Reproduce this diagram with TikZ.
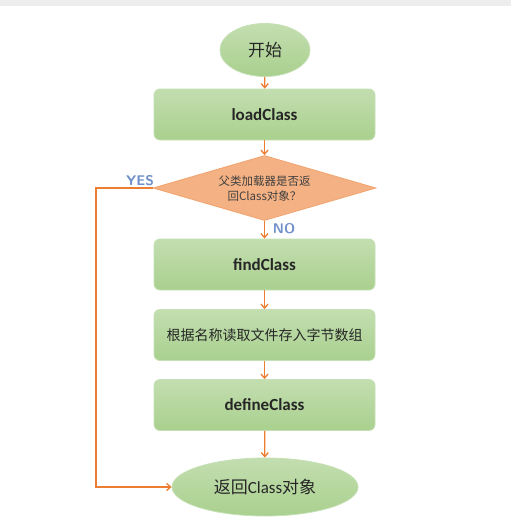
\documentclass[tikz,border=0pt]{standalone}
\usepackage{fontspec}
\setmainfont{Carlito}
\newfontfamily\cjk{Noto Sans CJK SC}
\usetikzlibrary{shapes.geometric,arrows.meta}
\definecolor{gfill}{HTML}{A9D08E}
\definecolor{gborder}{HTML}{C5E0B4}
\definecolor{ofill}{HTML}{F4B183}
\definecolor{oline}{HTML}{ED7D31}
\definecolor{lbl}{HTML}{6F8FC9}
\tikzset{
  x=1pt, y=-1pt,
  gbox/.style={draw=gborder, line width=0.8pt, top color=gfill!70!white, bottom color=gfill, rounded corners=6pt, minimum width=221pt, minimum height=51pt, inner sep=0pt, text=black!85},
  gell/.style={ellipse, draw=gborder, line width=0.8pt, top color=gfill!70!white, bottom color=gfill, inner sep=0pt, text=black!85},
  dec/.style={diamond, draw=oline!70, line width=0.8pt, fill=ofill, minimum width=223pt, minimum height=65pt, inner sep=0pt, aspect=3.4},
  conn/.style={draw=oline, line width=1.3pt, -{Straight Barb[length=4pt,width=7pt]}},
  lab/.style={text=lbl, font=\sffamily\bfseries\fontsize{14}{14}\selectfont, inner sep=0pt}
}
\begin{document}
\begin{tikzpicture}
\useasboundingbox (0,0) rectangle (511,525);
\fill[white] (0,0) rectangle (511,525);
\fill[black!7] (0,0) rectangle (511,6);
\node[gell, minimum width=90pt, minimum height=53pt] (start) at (265,50) {\cjk\fontsize{17}{17}\selectfont 开始};
\node[gbox] (load) at (264.5,114.5) {\bfseries\fontsize{17}{17}\selectfont loadClass};
\node[dec] (dec) at (264.5,188) {};
\node[align=center, font=\cjk\fontsize{11.5}{15}\selectfont, text=black!75] (dect) at (264.5,189) {父类加载器是否返\\回Class对象？};
\node[gbox] (find) at (264.5,264.5) {\bfseries\fontsize{17}{17}\selectfont findClass};
\node[gbox] (read) at (264.5,335) {\cjk\fontsize{14}{14}\selectfont 根据名称读取文件存入字节数组};
\node[gbox] (def) at (264.5,405) {\bfseries\fontsize{17}{17}\selectfont defineClass};
\node[gell, minimum width=186pt, minimum height=58pt] (ret) at (265,487) {\fontsize{17}{17}\selectfont{\cjk 返回}Class{\cjk 对象}};
\coordinate (c1) at (96,188);
\coordinate (c2) at (96,487);
\draw[conn] (start) -- (load);
\draw[conn] (load) -- (dec);
\draw[conn] (dec) -- (find);
\draw[conn] (find) -- (read);
\draw[conn] (read) -- (def);
\draw[conn] (def) -- (ret);
\draw[conn] (dec.west) -- (c1) -- (c2) -- (ret.west);
\node[lab] (yes) at (140,181) {YES};
\node[lab] (no) at (284,229) {NO};
\end{tikzpicture}
\end{document}
